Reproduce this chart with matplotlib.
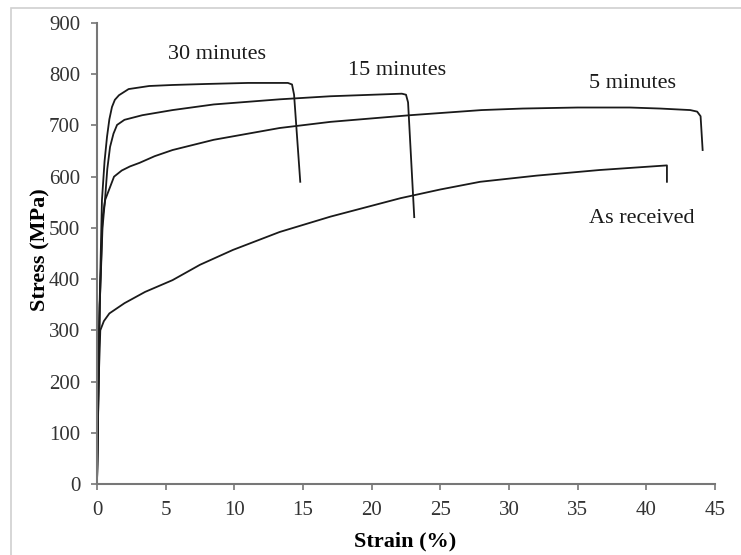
import matplotlib
matplotlib.use("Agg")
import matplotlib.pyplot as plt
from matplotlib.patches import Rectangle

# Data (strain %, stress MPa)
strain_30 = [0, 0.15, 0.36, 0.55, 0.73, 0.9, 1.09, 1.3, 1.6, 2.3, 3.8, 5.5, 8.0, 11.0, 13.9, 14.2, 14.35, 14.8]
stress_30 = [0, 300, 554, 630, 678, 712, 736, 750, 759, 771, 777, 779, 781, 783, 783, 780, 760, 590]

strain_15 = [0, 0.2, 0.4, 0.58, 0.75, 0.95, 1.2, 1.46, 2.0, 3.3, 5.5, 8.5, 13.3, 17.0, 22.2, 22.5, 22.65, 23.1]
stress_15 = [0, 350, 500, 554, 615, 658, 684, 701, 711, 720, 730, 741, 751, 757, 762, 760, 745, 521]

strain_5 = [0, 0.2, 0.4, 0.6, 0.87, 1.24, 1.8, 2.4, 3.1, 4.2, 5.5, 8.5, 13.3, 17.0, 22.8, 28.0, 31.0, 35.0, 38.8, 41.0, 43.2, 43.7, 43.95, 44.1]
stress_5 = [0, 350, 520, 555, 574, 600, 612, 620, 627, 640, 652, 672, 695, 707, 720, 730, 733, 735, 735, 733, 730, 727, 718, 652]

strain_ar = [0, 0.12, 0.24, 0.5, 0.9, 2.0, 3.5, 5.5, 7.5, 9.9, 13.3, 17.0, 22.1, 25.0, 27.9, 32.0, 36.6, 41.5, 41.5]
stress_ar = [0, 200, 300, 318, 333, 353, 375, 398, 428, 457, 492, 522, 558, 575, 590, 602, 613, 622, 590]

series = [
    (strain_30, stress_30, "30 minutes", (8.74, 839)),
    (strain_15, stress_15, "15 minutes", (21.85, 808)),
    (strain_5, stress_5, "5 minutes", (38.96, 781)),
    (strain_ar, stress_ar, "As received", (39.7, 519)),
]

x_ticks = [0, 5, 10, 15, 20, 25, 30, 35, 40, 45]
y_ticks = [0, 100, 200, 300, 400, 500, 600, 700, 800, 900]

plt.rcParams['font.family'] = ['Liberation Serif', 'DejaVu Serif']

fig = plt.figure(figsize=(7.41, 5.55), dpi=100)
ax = fig.add_axes([97/741, 1-484/555, (715-97)/741, (484-23)/555])

for xs, ys, label, pos in series:
    ax.plot(xs, ys, color="#1a1a1a", lw=1.3, solid_joinstyle="round")
    ax.text(pos[0], pos[1], label, ha="center", va="center", fontsize=16, color="#1a1a1a")

ax.set_xlim(0, 45)
ax.set_ylim(0, 900)
ax.set_xticks(x_ticks)
ax.set_yticks(y_ticks)
ax.tick_params(direction="out", length=4, width=1.2, colors="#777777", labelcolor="#333333", labelsize=15)
ax.tick_params(axis="x", pad=8)
ax.tick_params(axis="y", pad=8)
for s in ["top", "right"]:
    ax.spines[s].set_visible(False)
for s in ["left", "bottom"]:
    ax.spines[s].set_color("#777777")
    ax.spines[s].set_linewidth(1.5)

ax.set_xlabel("Strain (%)", fontsize=16, fontweight="bold", va="center")
ax.set_ylabel("Stress (MPa)", fontsize=16, fontweight="bold", va="center")
ax.xaxis.set_label_coords((405-97)/618, (484-541)/461)
ax.yaxis.set_label_coords((40-97)/618, (484-250)/461)

fig.patches.append(Rectangle((11/741, -0.05), 1.1, 1-8/555+0.05, transform=fig.transFigure,
                             fill=False, edgecolor="#d0d0d0", lw=1.2))

fig.savefig("out.png", dpi=100)
